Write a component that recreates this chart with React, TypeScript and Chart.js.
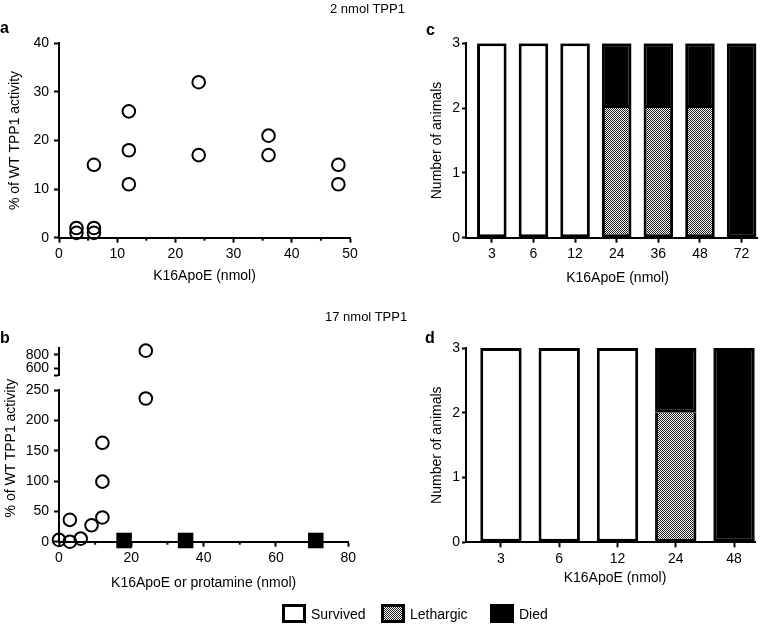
import React, { useEffect, useRef } from 'react';
import { Chart, registerables } from 'chart.js';

Chart.register(...registerables);

const FONT = '"Liberation Sans", Arial, Helvetica, sans-serif';
Chart.defaults.font.family = FONT;
Chart.defaults.color = '#000';

// ---- Panel a: 2 nmol TPP1 ----
const aDose = [3, 3, 6, 6, 6, 12, 12, 12, 24, 24, 36, 36, 48, 48];
const aActivity = [2, 1, 15, 2, 1, 26, 18, 11, 32, 17, 21, 17, 15, 11];
const aXTicks = [0, 10, 20, 30, 40, 50];
const aXMinor = [5, 15, 25, 35, 45];
const aYTicks = [0, 10, 20, 30, 40];

// ---- Panel b: 17 nmol TPP1 ----
const bDose = [0, 3, 3, 6, 9, 12, 12, 12, 24, 24];
const bActivity = [3, 0, 36, 5, 27, 40, 99, 163, 236, 865];
const bProtamineDose = [18, 35, 71];
const bProtamineActivity = [2, 2, 2];
const bXTicks = [0, 20, 40, 60, 80];
const bXMinor = [10, 30, 50, 70];
const bYLowTicks = [0, 50, 100, 150, 200, 250];
const bYHighTicks = [500, 600, 800];
const bBreak = 250;

// ---- Panel c ----
const cDoses = ['3', '6', '12', '24', '36', '48', '72'];
const cSurvived = [3, 3, 3, 0, 0, 0, 0];
const cLethargic = [0, 0, 0, 2, 2, 2, 0];
const cDied = [0, 0, 0, 1, 1, 1, 3];

// ---- Panel d ----
const dDoses = ['3', '6', '12', '24', '48'];
const dSurvived = [3, 3, 3, 0, 0];
const dLethargic = [0, 0, 0, 2, 0];
const dDied = [0, 0, 0, 1, 3];

const animalTicks = [0, 1, 2, 3];

const W = 764;
const H = 624;

const tickFont = { family: FONT, size: 14 };
const titleFont = { family: FONT, size: 14 };

function fixedTicks(vals: number[]) {
  return (s: any) => {
    s.ticks = vals.map((v) => ({ value: v }));
  };
}

function axisStyle(tickLength: number, padding: number) {
  return {
    offset: false,
    border: { display: true, color: '#000', width: 2 },
    grid: {
      offset: false,
      drawOnChartArea: false,
      drawTicks: true,
      tickLength,
      tickWidth: 2,
      tickColor: '#000',
    },
    ticks: { color: '#000', font: tickFont, padding, autoSkip: false, maxRotation: 0 },
  };
}

function minorTicks(id: string, values: number[], len: number) {
  return {
    id,
    afterDraw(chart: any) {
      const sx = chart.scales.x;
      const ctx = chart.ctx;
      const y0 = chart.chartArea.bottom;
      ctx.save();
      ctx.strokeStyle = '#000';
      ctx.lineWidth = 2;
      values.forEach((v) => {
        const px = sx.getPixelForValue(v);
        ctx.beginPath();
        ctx.moveTo(px, y0);
        ctx.lineTo(px, y0 + len);
        ctx.stroke();
      });
      ctx.restore();
    },
  };
}

function circleDs(xs: number[], ys: number[], keep: (y: number) => boolean) {
  return {
    label: 'K16ApoE',
    data: xs.map((x, i) => ({ x, y: ys[i] })).filter((p) => keep(p.y)),
    pointStyle: 'circle',
    pointRadius: 6.3,
    pointBorderWidth: 2,
    pointBackgroundColor: 'rgba(0,0,0,0)',
    pointBorderColor: '#000',
    showLine: false,
    clip: false as any,
  };
}

function checkerPattern(): any {
  const c = document.createElement('canvas');
  c.width = 2;
  c.height = 2;
  const g = c.getContext('2d')!;
  g.fillStyle = '#fff';
  g.fillRect(0, 0, 2, 2);
  g.fillStyle = '#1a1a1a';
  g.fillRect(0, 0, 1, 1);
  g.fillRect(1, 1, 1, 1);
  return g.createPattern(c, 'repeat');
}

const baseOpts = {
  responsive: false,
  animation: false as const,
  devicePixelRatio: 1,
  events: [] as any[],
};

const noPlugins = {
  legend: { display: false },
  tooltip: { enabled: false },
  title: { display: false },
};

function cfgA(): any {
  return {
    type: 'scatter',
    data: { datasets: [circleDs(aDose, aActivity, () => true)] },
    options: {
      ...baseOpts,
      layout: { padding: { left: 0, top: 43.3, right: W - 350, bottom: H - 290 } },
      plugins: noPlugins,
      scales: {
        x: {
          type: 'linear',
          min: 0,
          max: 50,
          ...axisStyle(5, 3),
          afterBuildTicks: fixedTicks(aXTicks),
          afterFit: (s: any) => {
            s.height = 290 - 237.7;
          },
          title: {
            display: true,
            text: 'K16ApoE (nmol)',
            font: titleFont,
            color: '#000',
            padding: { top: 0, bottom: 5.6 },
          },
        },
        y: {
          type: 'linear',
          min: 0,
          max: 40,
          ...axisStyle(5, 5),
          afterBuildTicks: fixedTicks(aYTicks),
          afterFit: (s: any) => {
            s.width = 59;
          },
          title: {
            display: true,
            text: '% of WT TPP1 activity',
            font: titleFont,
            color: '#000',
            padding: { top: 6.6, bottom: 0 },
          },
        },
      },
    },
    plugins: [minorTicks('minorA', aXMinor, 3)],
  };
}

function cfgBLow(): any {
  return {
    type: 'scatter',
    data: {
      datasets: [
        circleDs(bDose, bActivity, (y) => y <= bBreak),
        {
          label: 'Protamine',
          data: bProtamineDose.map((x, i) => ({ x, y: bProtamineActivity[i] })),
          pointStyle: 'rect',
          pointRadius: 11,
          pointBorderWidth: 0,
          pointBackgroundColor: '#000',
          pointBorderColor: '#000',
          showLine: false,
          clip: false,
        },
      ],
    },
    options: {
      ...baseOpts,
      layout: { padding: { left: 0, top: 390, right: W - 348.3, bottom: H - 600 } },
      plugins: noPlugins,
      scales: {
        x: {
          type: 'linear',
          min: 0,
          max: 80,
          ...axisStyle(5, 3),
          afterBuildTicks: fixedTicks(bXTicks),
          afterFit: (s: any) => {
            s.height = 600 - 541.7;
          },
          title: {
            display: true,
            text: 'K16ApoE or protamine (nmol)',
            font: titleFont,
            color: '#000',
            padding: { top: 0, bottom: 8.3 },
          },
        },
        y: {
          type: 'linear',
          min: 0,
          max: 250,
          ...axisStyle(5, 5),
          afterBuildTicks: fixedTicks(bYLowTicks),
          afterFit: (s: any) => {
            s.width = 59;
          },
        },
      },
    },
    plugins: [minorTicks('minorB', bXMinor, 3)],
  };
}

function cfgBHigh(): any {
  return {
    type: 'scatter',
    data: { datasets: [circleDs(bDose, bActivity, (y) => y > bBreak)] },
    options: {
      ...baseOpts,
      layout: { padding: { left: 0, top: 348.3, right: W - 348.3, bottom: H - 375 } },
      plugins: noPlugins,
      scales: {
        x: { type: 'linear', min: 0, max: 80, display: false },
        y: {
          type: 'linear',
          min: 500,
          max: 900,
          ...axisStyle(5, 5),
          afterBuildTicks: fixedTicks(bYHighTicks),
          afterFit: (s: any) => {
            s.width = 59;
          },
          ticks: {
            color: '#000',
            font: tickFont,
            padding: 5,
            autoSkip: false,
            callback: (v: number) => (v === bYHighTicks[0] ? '' : String(v)),
          },
        },
      },
    },
  };
}

function barCfg(
  cats: string[],
  surv: number[],
  leth: number[],
  died: number[],
  pat: any,
  area: { top: number; bottom: number; right: number },
  xMin: number,
  xMax: number
): any {
  const pts = (arr: number[]) => arr.map((v, i) => ({ x: i, y: v === 0 ? null : v }));
  const common = {
    borderColor: '#000',
    borderSkipped: false,
    barPercentage: 0.71,
    categoryPercentage: 1,
  };
  return {
    type: 'bar',
    data: {
      datasets: [
        { label: 'Survived', data: pts(surv), backgroundColor: '#fff', borderWidth: 3, ...common },
        {
          label: 'Lethargic',
          data: pts(leth),
          backgroundColor: pat,
          borderWidth: { left: 3, right: 3, bottom: 3, top: 0 },
          ...common,
        },
        { label: 'Died', data: pts(died), backgroundColor: '#000', borderWidth: 3, ...common },
      ],
    },
    options: {
      ...baseOpts,
      layout: {
        padding: { left: 420, top: area.top, right: W - area.right, bottom: H - (area.bottom + 30) },
      },
      plugins: noPlugins,
      scales: {
        x: {
          type: 'linear',
          stacked: true,
          min: xMin,
          max: xMax,
          ...axisStyle(5, 3),
          afterBuildTicks: fixedTicks(cats.map((_, i) => i)),
          afterFit: (s: any) => {
            s.height = 30;
          },
          ticks: {
            color: '#000',
            font: tickFont,
            padding: 3,
            autoSkip: false,
            maxRotation: 0,
            callback: (v: number) => cats[v] ?? '',
          },
        },
        y: {
          type: 'linear',
          stacked: true,
          min: 0,
          max: 3,
          ...axisStyle(4, 2),
          afterBuildTicks: fixedTicks(animalTicks),
          afterFit: (s: any) => {
            s.width = 46;
          },
          title: {
            display: true,
            text: 'Number of animals',
            font: titleFont,
            color: '#000',
            padding: { top: 8.3, bottom: 0 },
          },
        },
      },
    },
  };
}

type LP = {
  x: number;
  cy: number;
  fs: number;
  bold?: boolean;
  center?: boolean;
  rotate?: boolean;
  children: React.ReactNode;
};

function Label({ x, cy, fs, bold, center, rotate, children }: LP) {
  let transform: string | undefined;
  if (rotate) transform = 'translate(-50%, -50%) rotate(-90deg)';
  else if (center) transform = 'translateX(-50%)';
  return (
    <div
      style={{
        position: 'absolute',
        left: x,
        top: rotate ? cy : cy - fs / 2,
        fontSize: fs,
        lineHeight: `${fs}px`,
        fontWeight: bold ? 700 : 400,
        whiteSpace: 'nowrap',
        color: '#000',
        fontFamily: FONT,
        transform,
        transformOrigin: 'center',
      }}
    >
      {children}
    </div>
  );
}

function Swatch({ x, kind }: { x: number; kind: 'survived' | 'lethargic' | 'died' }) {
  const bg =
    kind === 'survived'
      ? '#fff'
      : kind === 'died'
      ? '#000'
      : 'repeating-conic-gradient(#1a1a1a 0 25%, #fff 0 50%) 0 0 / 2px 2px';
  return (
    <div
      style={{
        position: 'absolute',
        left: x,
        top: 604,
        width: 24,
        height: 19,
        boxSizing: 'border-box',
        border: '3px solid #000',
        background: bg,
      }}
    />
  );
}

export default function App() {
  const rA = useRef<HTMLCanvasElement>(null);
  const rBL = useRef<HTMLCanvasElement>(null);
  const rBH = useRef<HTMLCanvasElement>(null);
  const rC = useRef<HTMLCanvasElement>(null);
  const rD = useRef<HTMLCanvasElement>(null);

  useEffect(() => {
    const pat = checkerPattern();
    const charts = [
      new Chart(rA.current!, cfgA()),
      new Chart(rBL.current!, cfgBLow()),
      new Chart(rBH.current!, cfgBHigh()),
      new Chart(
        rC.current!,
        barCfg(cDoses, cSurvived, cLethargic, cDied, pat, { top: 43.3, bottom: 237.7, right: 757 }, -0.62, 6.37)
      ),
      new Chart(
        rD.current!,
        barCfg(dDoses, dSurvived, dLethargic, dDied, pat, { top: 348, bottom: 542.3, right: 755 }, -0.6, 4.36)
      ),
    ];
    return () => charts.forEach((c) => c.destroy());
  }, []);

  const cv = (r: React.RefObject<HTMLCanvasElement>) => (
    <canvas
      ref={r}
      width={W}
      height={H}
      style={{ position: 'absolute', left: 0, top: 0, width: W, height: H }}
    />
  );

  return (
    <div
      style={{
        position: 'absolute',
        left: 0,
        top: 0,
        width: W,
        height: H,
        background: '#fff',
        overflow: 'hidden',
        fontFamily: FONT,
      }}
    >
      {cv(rA)}
      {cv(rBL)}
      {cv(rBH)}
      {cv(rC)}
      {cv(rD)}

      <Label x={330} cy={8.8} fs={13}>2 nmol TPP1</Label>
      <Label x={325} cy={316.2} fs={13}>17 nmol TPP1</Label>

      <Label x={0} cy={27.8} fs={16} bold>a</Label>
      <Label x={0} cy={337.8} fs={16} bold>b</Label>
      <Label x={426} cy={29.5} fs={16} bold>c</Label>
      <Label x={425} cy={337.8} fs={16} bold>d</Label>

      <Label x={10} cy={448} fs={14} rotate>% of WT TPP1 activity</Label>
      <Label x={617.5} cy={276.5} fs={14} center>K16ApoE (nmol)</Label>
      <Label x={615} cy={576.7} fs={14} center>K16ApoE (nmol)</Label>

      <Swatch x={282} kind="survived" />
      <Label x={311} cy={613.8} fs={14}>Survived</Label>
      <Swatch x={381} kind="lethargic" />
      <Label x={410} cy={613.8} fs={14}>Lethargic</Label>
      <Swatch x={490} kind="died" />
      <Label x={519} cy={613.8} fs={14}>Died</Label>
    </div>
  );
}
